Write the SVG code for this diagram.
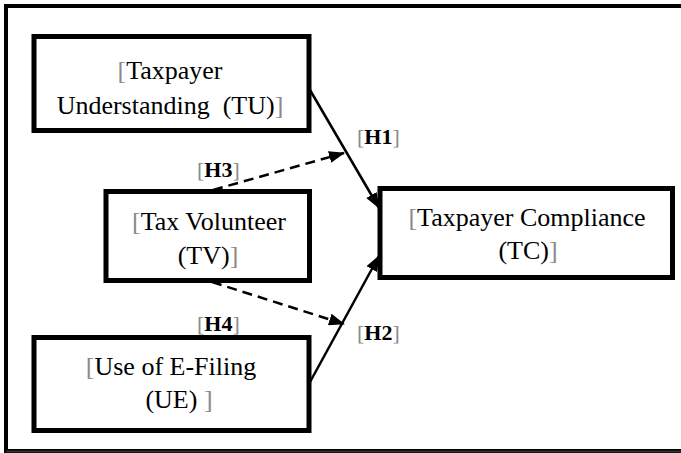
<svg xmlns="http://www.w3.org/2000/svg" width="681" height="453" viewBox="0 0 681 453">
<defs>
<style>
.box{fill:#fff;stroke:#000;stroke-width:5}
.t{font-family:"Liberation Serif","Times New Roman",serif;font-size:26px;fill:#000;text-anchor:middle}
.h{font-family:"Liberation Serif","Times New Roman",serif;font-size:22px;font-weight:bold;fill:#000}
.b{fill:#8a8a8a;font-weight:normal}
.c{fill:none;stroke:#000;stroke-width:2.5}
.d{stroke-dasharray:10 6}
</style>
<marker id="ah" markerWidth="16" markerHeight="12" refX="15" refY="6" orient="auto" markerUnits="userSpaceOnUse">
<path d="M0,0 L16,6 L0,12 Z" fill="#000"/>
</marker>
</defs>
<rect width="681" height="453" fill="#fff"/>
<g id="frame">
<path d="M690,6 H6 V451 H690" fill="none" stroke="#000" stroke-width="4"/>
<path d="M6,451.5 H690" stroke="#333" stroke-width="2"/>
</g>
<g id="connectors">
<line class="c" x1="310" y1="90" x2="379" y2="208" marker-end="url(#ah)"/>
<line class="c" x1="310" y1="382" x2="379" y2="256" marker-end="url(#ah)"/>
<line class="c d" x1="213" y1="190" x2="344" y2="153" marker-end="url(#ah)"/>
<line class="c d" x1="212" y1="282" x2="344" y2="324" marker-end="url(#ah)"/>
</g>
<g id="TU">
<rect class="box" x="34" y="36.5" width="275" height="94"/>
<text class="t" x="170" y="79"><tspan class="b">[</tspan>Taxpayer</text>
<text class="t" x="170" y="114" xml:space="preserve">Understanding  (TU)<tspan class="b">]</tspan></text>
</g>
<g id="TV">
<rect class="box" x="106" y="191.5" width="203.5" height="89"/>
<text class="t" x="209" y="230"><tspan class="b">[</tspan>Tax Volunteer</text>
<text class="t" x="208" y="264">(TV)<tspan class="b">]</tspan></text>
</g>
<g id="TC">
<rect class="box" x="380" y="188.5" width="292.5" height="89"/>
<text class="t" x="527" y="226"><tspan class="b">[</tspan>Taxpayer Compliance</text>
<text class="t" x="528" y="259">(TC)<tspan class="b">]</tspan></text>
</g>
<g id="UE">
<rect class="box" x="34" y="337.5" width="275" height="93"/>
<text class="t" x="171" y="375"><tspan class="b">[</tspan>Use of E-Filing</text>
<text class="t" x="179" y="408" xml:space="preserve">(UE) <tspan class="b">]</tspan></text>
</g>
<g id="labels">
<text class="h" x="357" y="144"><tspan class="b">[</tspan>H1<tspan class="b">]</tspan></text>
<text class="h" x="197" y="177"><tspan class="b">[</tspan>H3<tspan class="b">]</tspan></text>
<text class="h" x="197" y="331"><tspan class="b">[</tspan>H4<tspan class="b">]</tspan></text>
<text class="h" x="357" y="340"><tspan class="b">[</tspan>H2<tspan class="b">]</tspan></text>
</g>
</svg>
